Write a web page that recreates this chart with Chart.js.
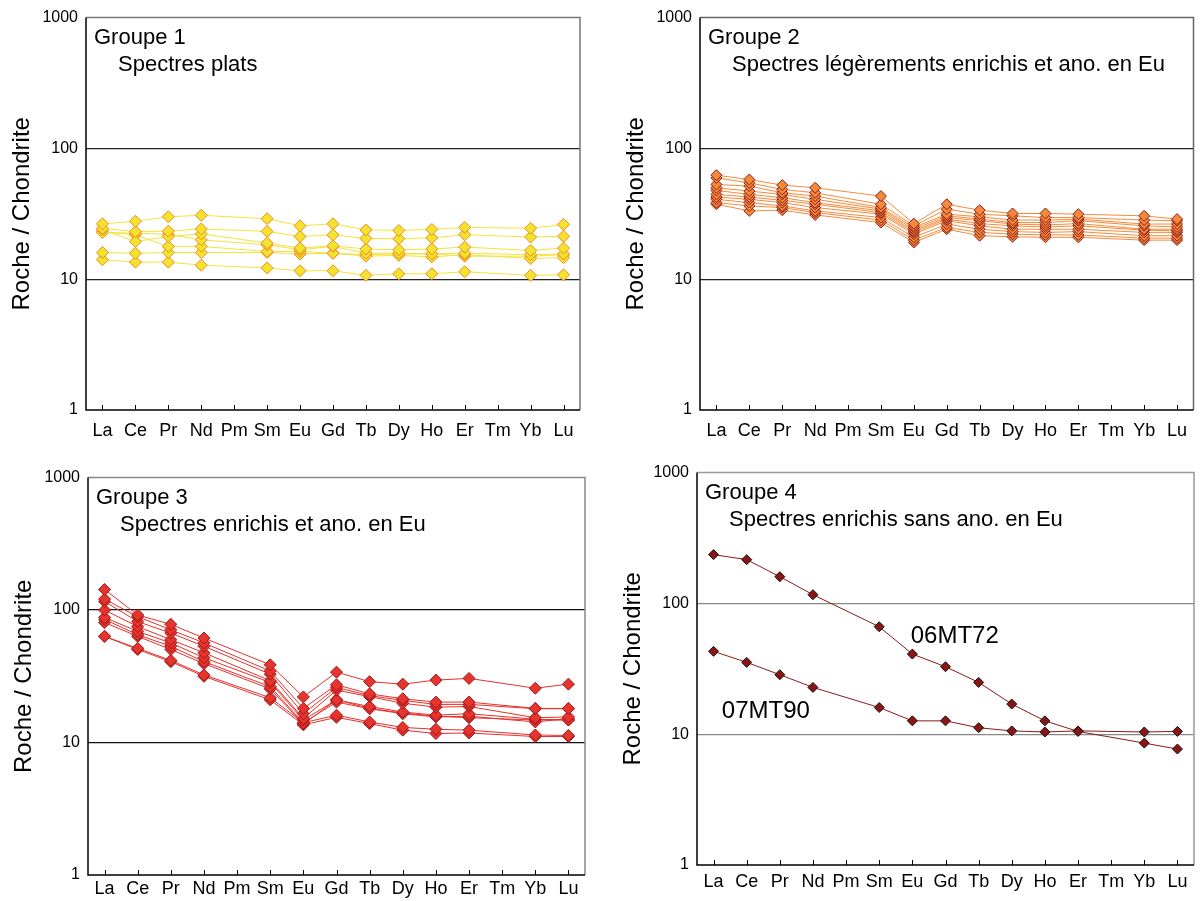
<!DOCTYPE html>
<html>
<head>
<meta charset="utf-8">
<title>Spectres de terres rares</title>
<script src="https://cdn.jsdelivr.net/npm/chart.js@4.4.0/dist/chart.umd.min.js"></script>
<style>
  body { margin: 0; width: 1202px; height: 901px; overflow: hidden; background: #fff; position: relative; }
  canvas { position: absolute; }
</style>
</head>
<body>
<canvas id="c1" width="600" height="450" style="left:0;top:0"></canvas>
<canvas id="c2" width="586" height="450" style="left:614px;top:0"></canvas>
<canvas id="c3" width="603" height="441" style="left:2px;top:460px"></canvas>
<canvas id="c4" width="589" height="446" style="left:611px;top:455px"></canvas>
<script>
const elements = ["La", "Ce", "Pr", "Nd", "Pm", "Sm", "Eu", "Gd", "Tb", "Dy", "Ho", "Er", "Tm", "Yb", "Lu"];
const yTicks = [1, 10, 100, 1000];

// Groupe 1 - spectres plats
const groupe1 = [
    [26.5, 27.7, 30.0, 30.8, null, 29.0, 25.6, 26.5, 23.8, 23.6, 24.0, 24.9, null, 24.5, 26.2],
    [24.5, 23.1, 23.3, 24.2, null, 23.2, 21.2, 21.8, 20.5, 20.4, 20.7, 21.9, null, 21.0, 21.3],
    [23.8, 19.4, 21.2, 22.2, null, 18.9, 17.3, 18.0, 17.0, 16.8, 17.0, 17.6, null, 16.6, 17.3],
    [22.7, 22.5, 22.0, 20.0, null, 18.3, 16.8, 17.8, 15.8, 15.8, 15.6, 15.8, null, 15.4, 15.6],
    [23.1, 21.8, 17.8, 17.8, null, 16.3, 16.3, 15.8, 15.0, 15.2, 14.8, 15.4, null, 14.4, 14.6],
    [16.0, 15.8, 16.0, 16.0, null, 16.0, 15.6, 15.8, 15.4, 15.6, 15.6, 15.0, null, 15.0, 15.4],
    [14.1, 13.5, 13.5, 12.8, null, 12.2, 11.6, 11.6, 10.7, 11.0, 11.0, 11.4, null, 10.7, 10.8]
];

// Groupe 2 - legerement enrichis, anomalie en Eu
const groupe2 = [
    [62.4, 57.8, 52.4, 50.0, null, 43.2, 26.6, 37.4, 33.7, 31.8, 31.8, 31.4, null, 30.5, 28.8],
    [59.5, 54.5, 48.6, 45.8, null, 37.4, 25.6, 34.3, 31.4, 30.5, 29.6, 29.6, null, 28.3, 28.0],
    [53.0, 51.5, 45.8, 43.2, null, 35.3, 24.9, 31.4, 30.0, 28.3, 28.3, 28.8, null, 26.4, 26.4],
    [50.0, 47.2, 44.5, 40.8, null, 34.3, 24.1, 30.5, 28.8, 27.1, 27.1, 28.0, null, 25.6, 25.1],
    [47.7, 44.5, 42.0, 38.5, null, 33.3, 23.4, 29.6, 28.0, 26.4, 26.0, 26.6, null, 24.1, 24.1],
    [44.5, 42.5, 40.1, 37.4, null, 32.3, 22.8, 28.8, 26.6, 25.6, 25.1, 25.6, null, 23.7, 23.4],
    [42.5, 40.8, 38.5, 35.3, null, 31.4, 22.1, 28.0, 25.6, 24.1, 24.1, 24.1, null, 22.8, 22.8],
    [40.8, 38.5, 36.3, 33.3, null, 29.6, 20.9, 26.4, 24.1, 23.1, 22.8, 23.1, null, 21.5, 21.5],
    [38.5, 36.3, 35.3, 32.3, null, 28.3, 19.9, 24.9, 22.8, 22.1, 21.8, 21.8, null, 20.6, 20.6],
    [37.4, 33.3, 33.7, 31.0, null, 27.1, 19.1, 24.1, 21.5, 21.1, 20.9, 20.9, null, 19.9, 19.9]
];

// Groupe 3 - enrichis, anomalie en Eu
const groupe3 = [
    [143, 91.8, 78.0, 61.5, null, 38.6, 22.1, 34.0, 28.8, 27.6, 29.6, 30.5, null, 25.7, 27.6],
    [121, 89.0, 71.0, 56.5, null, 34.7, 18.1, 27.3, 23.3, 21.4, 20.2, 20.2, null, 18.1, 18.1],
    [116, 81.9, 67.0, 53.3, null, 32.8, 16.5, 26.1, 22.6, 20.8, 19.4, 19.4, null, 18.0, 18.0],
    [100, 75.0, 59.8, 47.6, null, 29.3, 15.2, 24.9, 22.2, 19.8, 18.5, 18.7, null, 15.4, 15.6],
    [88.0, 69.0, 56.5, 43.7, null, 28.4, 14.8, 21.0, 18.7, 17.0, 16.1, 16.5, null, 15.0, 14.8],
    [85.0, 65.1, 53.3, 40.8, null, 26.4, 14.1, 20.2, 18.0, 16.5, 15.6, 15.8, null, 14.3, 15.2],
    [80.5, 63.3, 50.4, 39.4, null, 25.4, 13.8, 21.0, 18.1, 16.7, 15.8, 15.4, null, 14.8, 14.8],
    [63.3, 51.4, 41.7, 32.4, null, 21.8, 14.1, 16.1, 14.3, 13.0, 12.6, 12.4, null, 11.4, 11.3],
    [63.3, 50.4, 40.8, 31.6, null, 21.0, 13.6, 15.5, 13.9, 12.4, 11.7, 11.8, null, 11.1, 11.1]
];

// Groupe 4 - enrichis sans anomalie en Eu
const s06MT72 = [236, 216, 160, 116.6, null, 66.3, 41.0, 32.8, 24.9, 17.0, 12.65, 10.5, null, 8.55, 7.7];
const s07MT90 = [43.0, 35.4, 28.5, 22.8, null, 16.0, 12.65, 12.65, 11.2, 10.6, 10.4, 10.6, null, 10.4, 10.5];

const family = '"Liberation Sans", Arial, sans-serif';

// frame, small inside ticks and the texts inside the plot
const decoPlugin = {
    id: 'deco',
    afterDraw(chart, args, o) {
        const { ctx, chartArea: a, scales: { x, y } } = chart;
        ctx.save();
        ctx.lineWidth = 1.5;
        ctx.strokeStyle = o.frameColor;
        ctx.beginPath();
        ctx.moveTo(a.left, a.top);
        ctx.lineTo(a.right, a.top);
        ctx.lineTo(a.right, a.bottom);
        ctx.stroke();
        ctx.strokeStyle = '#000';
        ctx.beginPath();
        ctx.moveTo(a.left, a.top);
        ctx.lineTo(a.left, a.bottom);
        ctx.lineTo(a.right, a.bottom);
        ctx.stroke();

        ctx.lineWidth = 1;
        elements.forEach((e, i) => {
            const px = Math.round(x.getPixelForValue(i)) + 0.5;
            ctx.beginPath();
            ctx.moveTo(px, a.bottom);
            ctx.lineTo(px, a.bottom - 5);
            ctx.stroke();
        });

        ctx.fillStyle = '#000';
        ctx.textAlign = 'left';
        ctx.textBaseline = 'middle';
        ctx.font = '22px ' + family;
        ctx.fillText(o.title, a.left + 8, a.top + 20);
        ctx.fillText(o.subtitle, a.left + 32, a.top + 47);
        (o.labels || []).forEach(l => {
            ctx.font = '24px ' + family;
            ctx.fillText(l.text, x.getPixelForValue(l.at), y.getPixelForValue(l.value));
        });
        ctx.restore();
    }
};

function buildDatasets(lines, st) {
    return lines.map(v => ({
        data: v,
        borderColor: st.line,
        borderWidth: 1,
        backgroundColor: st.fill,
        pointStyle: 'rectRot',
        pointRadius: st.r,
        pointBackgroundColor: st.fill,
        pointBorderColor: st.edge,
        pointBorderWidth: 1,
        spanGaps: true,
        tension: 0
    }));
}

function makeChart(id, lines, st, layout, deco) {
    new Chart(document.getElementById(id), {
        type: 'line',
        data: { labels: elements, datasets: buildDatasets(lines, st) },
        plugins: [decoPlugin],
        options: {
            responsive: false,
            animation: false,
            layout: { padding: layout.padding },
            plugins: {
                legend: { display: false },
                tooltip: { enabled: false },
                deco: deco
            },
            scales: {
                x: {
                    type: 'category',
                    offset: true,
                    afterFit: s => { s.height = layout.xh; },
                    grid: { display: false, drawTicks: false },
                    border: { display: false },
                    ticks: { font: { size: 18, family }, color: '#000', padding: layout.xpad, maxRotation: 0, autoSkip: false }
                },
                y: {
                    type: 'logarithmic',
                    min: 1,
                    max: 1000,
                    afterBuildTicks: s => { s.ticks = yTicks.map(v => ({ value: v })); },
                    afterFit: s => { s.width = 86; },
                    ticks: { callback: v => String(v), font: { size: 16, family }, color: '#000', padding: 8 },
                    grid: {
                        drawTicks: false,
                        lineWidth: 1.3,
                        color: c => (c.tick && (c.tick.value === 10 || c.tick.value === 100)) ? st.grid : 'rgba(0,0,0,0)'
                    },
                    border: { display: false },
                    title: { display: true, text: 'Roche / Chondrite', font: { size: 24, family }, color: '#000', padding: { top: 8, bottom: 0 } }
                }
            }
        }
    });
}

makeChart('c1', groupe1,
    { line: '#f4e33a', fill: '#f3e32e', edge: '#f08a24', r: 6, grid: '#222' },
    { padding: { top: 15, right: 20, left: 0, bottom: 0 }, xh: 40, xpad: 10 },
    { title: 'Groupe 1', subtitle: 'Spectres plats', frameColor: '#777' });

makeChart('c2', groupe2,
    { line: '#f68b3c', fill: '#f5893a', edge: '#8e1d1a', r: 5.5, grid: '#222' },
    { padding: { top: 15, right: 5, left: 0, bottom: 0 }, xh: 40, xpad: 10 },
    { title: 'Groupe 2', subtitle: 'Spectres légèrements enrichis et ano. en Eu', frameColor: '#666' });

makeChart('c3', groupe3,
    { line: '#e8302c', fill: '#e5352e', edge: '#a3171a', r: 6, grid: '#111' },
    { padding: { top: 15, right: 20, left: 0, bottom: 0 }, xh: 26, xpad: 3 },
    { title: 'Groupe 3', subtitle: 'Spectres enrichis et ano. en Eu', frameColor: '#888' });

makeChart('c4', [s06MT72, s07MT90],
    { line: '#8b1a1a', fill: '#8b1515', edge: '#111', r: 5, grid: '#888' },
    { padding: { top: 15, right: 5, left: 0, bottom: 0 }, xh: 36, xpad: 6 },
    {
        title: 'Groupe 4', subtitle: 'Spectres enrichis sans ano. en Eu', frameColor: '#999',
        labels: [{ text: '06MT72', at: 5.95, value: 56 }, { text: '07MT90', at: 0.25, value: 15 }]
    });
</script>
</body>
</html>
